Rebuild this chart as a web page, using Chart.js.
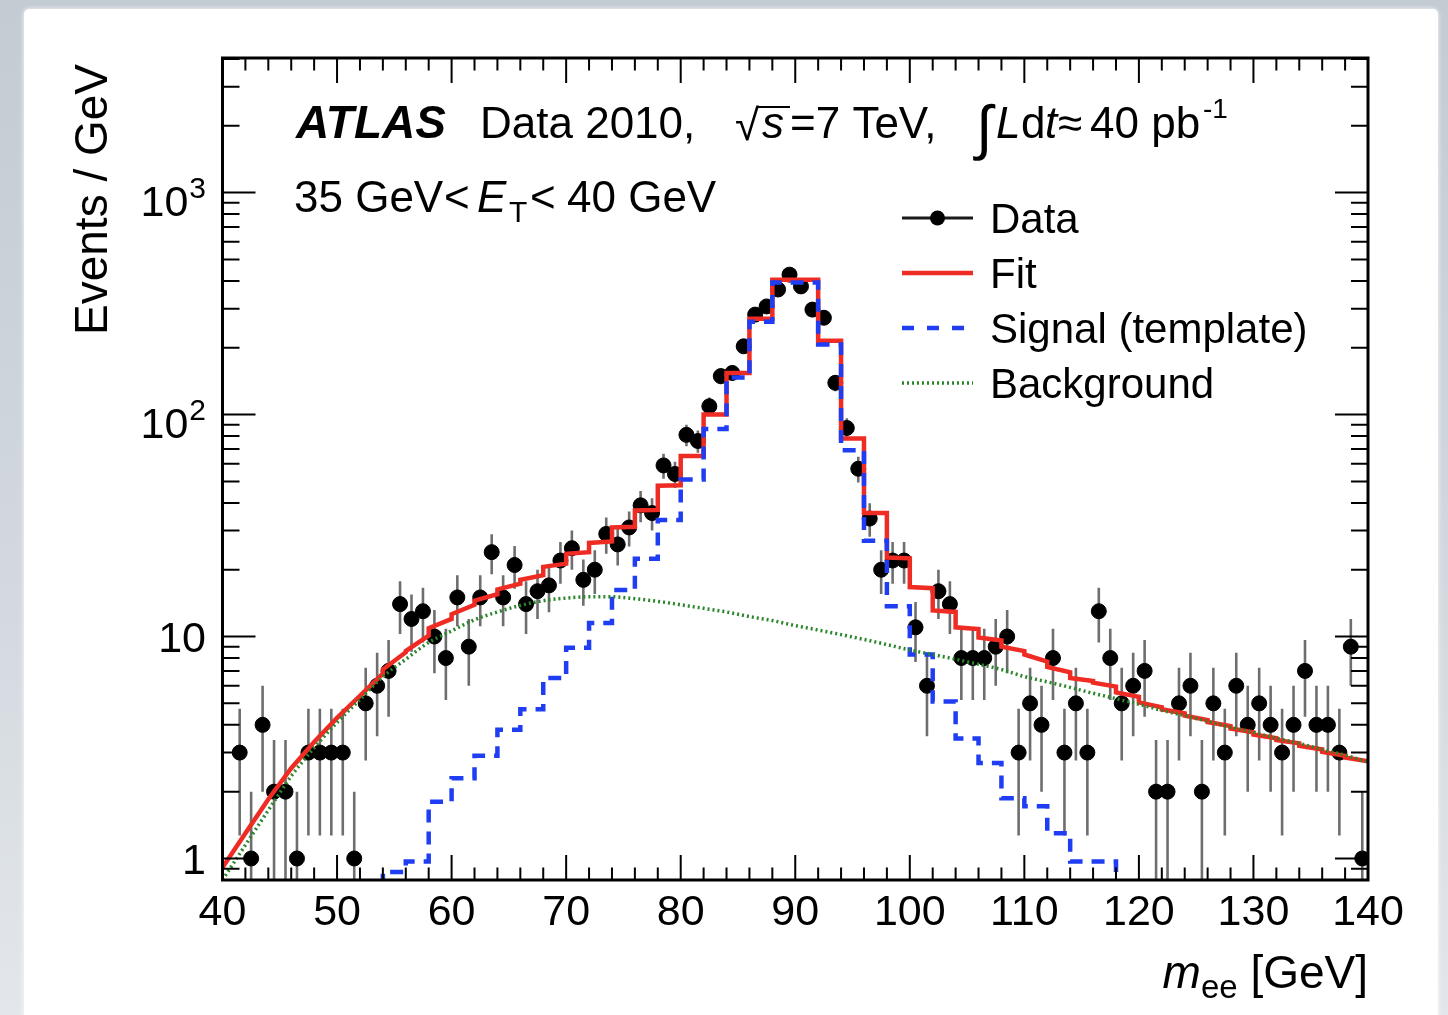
<!DOCTYPE html>
<html><head><meta charset="utf-8">
<script src="https://cdn.jsdelivr.net/npm/chart.js@4.4.1/dist/chart.umd.min.js"></script>
<style>
html,body{margin:0;padding:0;width:1448px;height:1015px;overflow:hidden;}
body{background:linear-gradient(180deg,#c3cbd3 0%,#d3d9df 60%,#e3e7eb 100%);}
#panel{position:absolute;left:24px;top:9px;width:1414px;height:1040px;background:#fff;border-radius:5px;box-shadow:0 0 5px rgba(255,255,255,0.9);}
#c{position:absolute;left:0;top:0;}
</style></head><body>
<div id="panel"></div>
<canvas id="c" width="1448" height="1015"></canvas>
<script>
// ---------------- data ----------------
const dataMass = [40.5,41.5,42.5,43.5,44.5,45.5,46.5,47.5,48.5,49.5,50.5,51.5,52.5,53.5,54.5,55.5,56.5,57.5,58.5,59.5,
  60.5,61.5,62.5,63.5,64.5,65.5,66.5,67.5,68.5,69.5,70.5,71.5,72.5,73.5,74.5,75.5,76.5,77.5,78.5,79.5,
  80.5,81.5,82.5,83.5,84.5,85.5,86.5,87.5,88.5,89.5,90.5,91.5,92.5,93.5,94.5,95.5,96.5,97.5,98.5,99.5,
  100.5,101.5,102.5,103.5,104.5,105.5,106.5,107.5,108.5,109.5,110.5,111.5,112.5,113.5,114.5,115.5,116.5,117.5,118.5,119.5,
  120.5,121.5,122.5,123.5,124.5,125.5,126.5,127.5,128.5,129.5,130.5,131.5,132.5,133.5,134.5,135.5,136.5,137.5,138.5,139.5];
const dataEvents = [null,3,1,4,2,2,1,3,3,3,3,1,5,6,7,14,12,13,10,8,
  15,9,15,24,15,21,14,16,17,22,25,18,20,29,26,31,39,36,59,54,
  81,76,109,149,154,203,282,307,366,427,378,297,273,139,87,57,34,20,22,22,
  11,6,16,14,8,8,8,9,10,3,5,4,8,3,5,3,13,8,5,6,
  7,2,2,5,6,2,5,3,6,4,5,4,3,4,7,4,4,3,9,1];

// 2 GeV template binning (bin edges)
const tmplEdges = [40,42,44,46,48,50,52,54,56,58,60,62,64,66,68,70,72,74,76,78,80,82,84,86,88,90,
  92,94,96,98,100,102,104,106,108,110,112,114,116,118,120,122,124,126,128,130,132,134,136,138,140];
const signalValues = [null,null,null,null,null,null,0.6,0.87,0.97,1.8,
  2.3,2.9,3.8,4.7,6.5,8.9,11.5,16.2,22.4,33.5,
  51,86,147,262,394,394,207,69,27,13.7,
  8.3,5.1,3.47,2.69,1.87,1.72,1.3,0.97,0.97,0.6,
  null,null,null,null,null,null,null,null,null,null];
// fit value at the left and right edge of each 2 GeV bin
const fitLeft = [0.91,1.3,1.85,2.55,3.35,4.3,5.4,7.1,8.6,10.9,
  12.6,14.5,16.3,18.0,20.6,23.6,26.4,31.0,37.0,47.8,
  65,100,154,270,405,405,215,78,36,22.7,
  16.7,13.1,11.0,9.9,9.0,8.3,7.3,6.5,6.2,5.6,
  5.05,4.7,4.4,4.12,3.85,3.62,3.42,3.22,3.02,2.85];
const fitRight = [1.3,1.85,2.55,3.35,4.3,5.4,6.8,8.5,10.1,12.0,
  13.9,15.5,17.3,18.9,21.3,24.0,26.8,31.2,37.2,48.0,
  65,100,154,270,405,405,215,78,36,22.5,
  16.5,12.9,10.8,9.6,8.6,7.7,6.9,6.3,5.95,5.35,
  4.8,4.5,4.2,3.95,3.7,3.48,3.3,3.1,2.9,2.74];
const bgMass = tmplEdges;
const bgValues = [0.80,1.15,1.65,2.35,3.15,4.1,5.2,6.6,7.9,9.4,
  10.6,11.9,12.9,13.8,14.5,14.9,15.1,15.1,14.8,14.4,
  13.9,13.4,12.9,12.3,11.8,11.2,10.7,10.2,9.7,9.2,
  8.7,8.3,7.9,7.5,7.1,6.6,6.25,5.9,5.55,5.25,
  4.95,4.65,4.4,4.15,3.9,3.7,3.48,3.3,3.1,2.92,2.72];

const xTickValues = [40,50,60,70,80,90,100,110,120,130,140];
const xTickLabels = ['40','50','60','70','80','90','100','110','120','130','140'];
const yTickValues = [1,10,100,1000];
const yTickBase = ['1','10','10','10'];
const yTickExp = ['','','2','3'];
const legendLabels = ['Data','Fit','Signal (template)','Background'];

// ---------------- styling ----------------
const FONT = "'Liberation Sans', Arial, Helvetica, sans-serif";
const RED = '#ee2c24', BLUE = '#1f3df2', GREEN = '#2a862a';

const dataPts = dataMass.map((m,i)=>({x:m,y:dataEvents[i]}));
const fitPts = [];
for (let i=0;i<fitLeft.length;i++){ fitPts.push({x:tmplEdges[i],y:fitLeft[i]}); fitPts.push({x:tmplEdges[i+1],y:fitRight[i]}); }
const sigPts = signalValues.map((v,i)=>({x:tmplEdges[i],y:v}));
sigPts.push({x:tmplEdges[tmplEdges.length-1], y:signalValues[signalValues.length-1]});
const bgPts = bgMass.map((m,i)=>({x:m,y:bgValues[i]}));

function setFont(ctx,size,style){ ctx.font=(style?style+' ':'')+size+'px '+FONT; }

const errorBars = {
  id:'errorBars',
  beforeDatasetsDraw(chart){
    const ctx=chart.ctx, ys=chart.scales.y, xs=chart.scales.x, a=chart.chartArea;
    ctx.save();
    ctx.beginPath(); ctx.rect(a.left,a.top,a.right-a.left,a.bottom-a.top); ctx.clip();
    ctx.strokeStyle='#6e6e6e'; ctx.lineWidth=2.6;
    dataPts.forEach(p=>{
      if(p.y==null||p.y<=0) return;
      const e=Math.sqrt(p.y);
      const px=xs.getPixelForValue(p.x);
      const yt=ys.getPixelForValue(p.y+e);
      const yb=(p.y-e)>0?ys.getPixelForValue(p.y-e):a.bottom+5;
      ctx.beginPath(); ctx.moveTo(px,yt); ctx.lineTo(px,Math.min(yb,a.bottom+5)); ctx.stroke();
    });
    ctx.restore();
  }
};

const decorations = {
  id:'decorations',
  afterDraw(chart){
    const ctx=chart.ctx, xs=chart.scales.x, ys=chart.scales.y, a=chart.chartArea;
    ctx.save();
    // ticks
    ctx.strokeStyle='#000'; ctx.lineWidth=2;
    ctx.beginPath();
    for(let v=xs.min; v<=xs.max+1e-9; v+=2){
      const px=xs.getPixelForValue(v);
      const L=(Math.abs(v%10)<1e-6)?25:12.5;
      ctx.moveTo(px,a.bottom); ctx.lineTo(px,a.bottom-L);
      ctx.moveTo(px,a.top); ctx.lineTo(px,a.top+L);
    }
    [0.1,1,10,100,1000].forEach(d=>{
      for(let k=1;k<=9;k++){
        const v=k*d; if(v<ys.min||v>ys.max) continue;
        const py=ys.getPixelForValue(v);
        const L=(k===1)?33:17;
        ctx.moveTo(a.left,py); ctx.lineTo(a.left+L,py);
        ctx.moveTo(a.right,py); ctx.lineTo(a.right-L,py);
      }
    });
    ctx.stroke();
    // frame
    ctx.lineWidth=3;
    ctx.strokeRect(a.left,a.top,a.right-a.left,a.bottom-a.top);

    ctx.fillStyle='#000';
    ctx.textBaseline='alphabetic';
    // x tick labels
    setFont(ctx,43); ctx.textAlign='center';
    xTickValues.forEach((v,i)=>{ ctx.fillText(xTickLabels[i], xs.getPixelForValue(v), a.bottom+45); });
    // y tick labels
    yTickValues.forEach((v,i)=>{
      const py=ys.getPixelForValue(v);
      const rx=a.left-16.5;
      if(yTickExp[i]){
        setFont(ctx,30); const we=ctx.measureText(yTickExp[i]).width;
        ctx.textAlign='right'; ctx.fillText(yTickExp[i], rx, py+5);
        setFont(ctx,43); ctx.fillText(yTickBase[i], rx-we-1, py+23.5);
      } else {
        setFont(ctx,43); ctx.textAlign='right'; ctx.fillText(yTickBase[i], rx, py+15.5);
      }
    });
    // y title
    ctx.save(); ctx.translate(107, a.top+277); ctx.rotate(-Math.PI/2);
    setFont(ctx,46); ctx.textAlign='left'; ctx.fillText('Events / GeV',0,0); ctx.restore();
    // x title: m_ee [GeV]
    ctx.textAlign='left';
    setFont(ctx,46,'italic'); const wm=ctx.measureText('m').width;
    setFont(ctx,33); const wee=ctx.measureText('ee').width;
    setFont(ctx,46); const wr=ctx.measureText(' [GeV]').width;
    let xt=a.right-wm-wee-wr, bt=988;
    setFont(ctx,46,'italic'); ctx.fillText('m',xt,bt); xt+=wm;
    setFont(ctx,33); ctx.fillText('ee',xt,bt+10); xt+=wee;
    setFont(ctx,46); ctx.fillText(' [GeV]',xt,bt);

    // header line 1
    let b1=138;
    setFont(ctx,46,'bold italic'); ctx.fillText('ATLAS',296,b1);
    setFont(ctx,44); ctx.fillText('Data 2010,',480,b1);
    ctx.fillText('\u221A',735,b1+2);
    setFont(ctx,44,'italic'); ctx.fillText('s',762,b1);
    ctx.lineWidth=2; ctx.beginPath(); ctx.moveTo(758,107); ctx.lineTo(790,107); ctx.stroke();
    setFont(ctx,44); ctx.fillText('=7 TeV,',790,b1);
    setFont(ctx,60); ctx.fillText('\u222B',976,b1+10);
    setFont(ctx,44,'italic'); ctx.fillText('L',996,b1);
    setFont(ctx,44); ctx.fillText('d',1021,b1);
    setFont(ctx,44,'italic'); ctx.fillText('t',1045,b1);
    setFont(ctx,44); ctx.fillText('\u2248',1058,b1);
    ctx.fillText('40 pb',1090,b1);
    setFont(ctx,28); ctx.fillText('-1',1203,b1-20);
    // header line 2
    let b2=212;
    setFont(ctx,44); ctx.fillText('35 GeV',294,b2);
    ctx.fillText('<',444,b2);
    setFont(ctx,44,'italic'); ctx.fillText('E',477,b2);
    setFont(ctx,30); ctx.fillText('T',509,b2+10);
    setFont(ctx,44); ctx.fillText('<',530,b2);
    ctx.fillText('40 GeV',567,b2);

    // legend
    const lx0=902, lx1=973, ltx=990, rows=[218,273,328,383];
    ctx.lineCap='butt';
    // data
    ctx.strokeStyle='#1a1a1a'; ctx.lineWidth=3; ctx.setLineDash([]);
    ctx.beginPath(); ctx.moveTo(lx0,rows[0]); ctx.lineTo(lx1,rows[0]); ctx.stroke();
    ctx.fillStyle='#000'; ctx.beginPath(); ctx.arc((lx0+lx1)/2,rows[0],7.5,0,Math.PI*2); ctx.fill();
    // fit
    ctx.strokeStyle=RED; ctx.lineWidth=4.5;
    ctx.beginPath(); ctx.moveTo(lx0,rows[1]); ctx.lineTo(lx1,rows[1]); ctx.stroke();
    // signal
    ctx.strokeStyle=BLUE; ctx.lineWidth=4.5; ctx.setLineDash([12,13]);
    ctx.beginPath(); ctx.moveTo(lx0,rows[2]); ctx.lineTo(lx1-5,rows[2]); ctx.stroke();
    // background
    ctx.strokeStyle=GREEN; ctx.lineWidth=3.5; ctx.setLineDash([2,3]);
    ctx.beginPath(); ctx.moveTo(lx0,rows[3]); ctx.lineTo(lx1,rows[3]); ctx.stroke();
    ctx.setLineDash([]);
    ctx.fillStyle='#000'; setFont(ctx,42); ctx.textAlign='left';
    legendLabels.forEach((t,i)=>ctx.fillText(t,ltx,rows[i]+15));
    ctx.restore();
  }
};

new Chart(document.getElementById('c'), {
  type:'scatter',
  data:{datasets:[
    {label:'Data', data:dataPts, showLine:false, pointRadius:7.5, pointHoverRadius:7.5,
     pointBackgroundColor:'#000', pointBorderColor:'#000', pointBorderWidth:1, order:4},
    {label:'Fit', data:fitPts, showLine:true, borderColor:RED, borderWidth:4.5, pointRadius:0,
     tension:0, order:3},
    {label:'Signal (template)', data:sigPts, showLine:true, borderColor:BLUE, borderWidth:4.5,
     borderDash:[13,9], stepped:'before', pointRadius:0, spanGaps:false, order:2},
    {label:'Background', data:bgPts, showLine:true, borderColor:GREEN, borderWidth:3.5,
     borderDash:[2,3], cubicInterpolationMode:'monotone', pointRadius:0, order:1}
  ]},
  options:{
    responsive:false, animation:false, devicePixelRatio:1,
    layout:{padding:{left:0,top:58,right:80,bottom:0}},
    plugins:{legend:{display:false}, tooltip:{enabled:false}},
    scales:{
      x:{type:'linear', min:40, max:140, grid:{display:false,drawTicks:false}, border:{display:false},
         ticks:{display:false}, afterFit:(s)=>{s.height=135;}},
      y:{type:'logarithmic', min:0.8, max:4040, grid:{display:false,drawTicks:false}, border:{display:false},
         ticks:{display:false}, afterFit:(s)=>{s.width=222.5;}}
    }
  },
  plugins:[errorBars, decorations]
});
</script></body></html>
